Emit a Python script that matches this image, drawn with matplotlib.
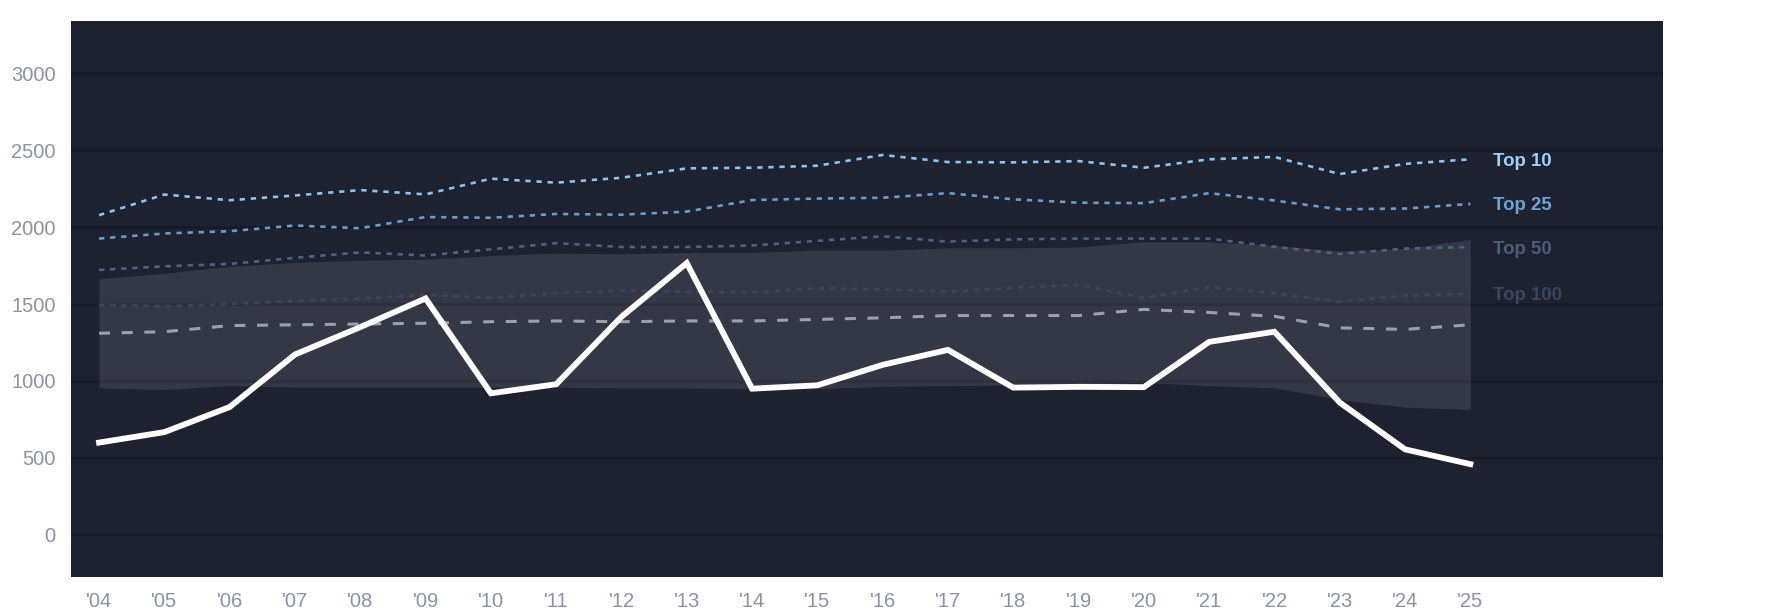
import matplotlib
matplotlib.use("Agg")
import matplotlib.pyplot as plt

plt.rcParams['font.family'] = ['Liberation Sans', 'DejaVu Sans']

# Data
years = list(range(2004, 2026))
year_labels = ["'%02d" % (y % 100) for y in years]

main_line = [600, 668, 831, 1172, 1350, 1536, 920, 979, 1417, 1766, 950, 972,
             1105, 1202, 957, 962, 960, 1254, 1320, 860, 556, 460]

top10 = [2077, 2211, 2174, 2205, 2240, 2212, 2314, 2288, 2320, 2381, 2385, 2398,
         2468, 2422, 2420, 2428, 2385, 2440, 2455, 2344, 2410, 2440]
top25 = [1925, 1958, 1973, 2010, 1992, 2065, 2060, 2085, 2080, 2100, 2175, 2185,
         2190, 2220, 2180, 2158, 2155, 2220, 2172, 2115, 2120, 2150]
top50 = [1721, 1745, 1760, 1800, 1835, 1815, 1855, 1895, 1870, 1870, 1880, 1910,
         1940, 1905, 1920, 1925, 1925, 1925, 1872, 1825, 1860, 1870]
top100 = [1495, 1485, 1500, 1520, 1535, 1560, 1540, 1572, 1588, 1580, 1575, 1603,
          1595, 1580, 1605, 1625, 1540, 1610, 1570, 1515, 1555, 1568]
median = [1310, 1320, 1360, 1365, 1370, 1375, 1385, 1390, 1385, 1390, 1390, 1400,
          1410, 1425, 1425, 1425, 1465, 1445, 1420, 1345, 1335, 1365]

band_high = [1665, 1700, 1745, 1770, 1785, 1790, 1815, 1830, 1825, 1835, 1835, 1850,
             1850, 1865, 1865, 1870, 1905, 1905, 1880, 1845, 1860, 1920]
band_low = [955, 945, 970, 960, 960, 960, 960, 960, 955, 955, 950, 950,
            965, 970, 975, 980, 990, 970, 955, 880, 830, 815]

tiers = [
    ("Top 10", top10, "#8ec3ee", "#a0d0f8"),
    ("Top 25", top25, "#6a9ccb", "#70a3d3"),
    ("Top 50", top50, "#4d6282", "#4c5d7a"),
    ("Top 100", top100, "#3c475e", "#3a455c"),
]

fig = plt.figure(figsize=(17.85, 6.14), dpi=100, facecolor="white")
ax = fig.add_axes([71 / 1785, 1 - 577 / 614, (1663 - 71) / 1785, (577 - 21) / 614])
ax.set_facecolor("#1d2130")

# Grid
ax.set_yticks(range(0, 3001, 500))
ax.grid(axis="y", color="#171a26", linewidth=2.0, zorder=0)
ax.set_axisbelow(True)

# Shaded range
ax.fill_between(years, band_low, band_high, color="white", alpha=0.1, linewidth=0, zorder=1)

# Tier lines with labels at the end
for name, vals, color, label_color in tiers:
    ax.plot(years, vals, color=color, linewidth=1.9, linestyle=(0, (2, 2.2)), zorder=2)
    ax.text(years[-1] + 0.35, vals[-1], name, color=label_color, fontsize=13.4,
            fontweight="bold", va="center_baseline", ha="left")

# Median dashed line
ax.plot(years, median, color="#9ba1ac", linewidth=2.2, linestyle=(0, (3.6, 3.8)), zorder=3)

# Main line
ax.plot(years, main_line, color="white", linewidth=4.2, solid_joinstyle="miter", zorder=4)

ax.set_xlim(2003.57, 2027.95)
ax.set_ylim(-273, 3338)
ax.set_xticks(years)
ax.set_xticklabels(year_labels)

ax.tick_params(axis="both", length=0, colors="#8a93a3", labelsize=14.5)
ax.tick_params(axis="x", pad=11)
ax.tick_params(axis="y", pad=11)
for s in ax.spines.values():
    s.set_visible(False)

fig.savefig("out.png", dpi=100, facecolor="white")
